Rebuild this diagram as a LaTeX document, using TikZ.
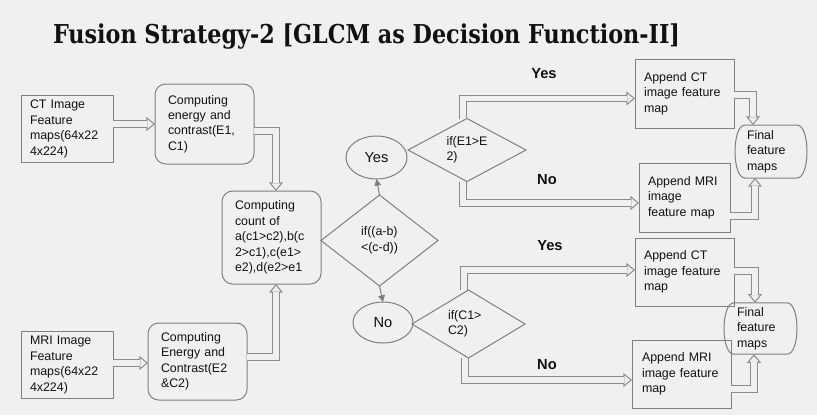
\documentclass[tikz,border=0pt]{standalone}
\usepackage{graphicx}
\usepackage{fontspec}
\setmainfont{Liberation Sans}
\newfontfamily\titlefont{DejaVu Serif}
\usetikzlibrary{arrows.meta,shapes.geometric,calc}
\definecolor{bgcol}{HTML}{F0F0F0}
\definecolor{lncol}{HTML}{7F7F7F}
\definecolor{arrcol}{HTML}{8C8C8C}
\definecolor{inkcol}{HTML}{111111}
\newcommand\drawfinal[1]{\draw[lncol, line width=0.75pt] ([xshift=7.5pt]#1.north west) -- ([xshift=-7.5pt]#1.north east) .. controls ([xshift=2.5pt]#1.north east) and ([xshift=2.5pt]#1.south east) .. ([xshift=-7.5pt]#1.south east) -- ([xshift=7.5pt]#1.south west) .. controls ([xshift=-2.5pt]#1.south west) and ([xshift=-2.5pt]#1.north west) .. cycle;}
\begin{document}
\begin{tikzpicture}[x=0.75pt,y=-0.75pt,
  every node/.style={outer sep=0pt, text=inkcol},
  txt/.style={font=\fontsize{9.3pt}{11.6pt}\selectfont, align=left},
  box/.style={txt, draw=lncol, line width=0.75pt, rectangle},
  rbox/.style={box, rounded corners=8pt},
  dia/.style={txt, diamond, draw=lncol, line width=0.75pt, inner sep=0pt},
  ell/.style={ellipse, draw=lncol, line width=0.75pt, inner sep=0pt, font=\fontsize{11pt}{13pt}\selectfont},
  lab/.style={font=\bfseries\fontsize{11pt}{13pt}\selectfont, inner sep=0pt},
  fat/.style={draw=arrcol, line width=0.75pt,
    -{Triangle[open, fill=bgcol, width=10.5pt, length=6.5pt, line width=0.75pt]},
    postaction={draw=arrcol, -, double=bgcol, double distance=4.2pt, line width=0.75pt, shorten >=5.8pt}},
  tarrow/.style={draw=lncol, line width=0.75pt, -{Triangle[width=5pt,length=5pt]}}
]
\fill[bgcol] (0,0) rectangle (817,415);
\useasboundingbox (0,0) rectangle (817,415);

\node[anchor=base west, inner sep=0pt] (title) at (53,43) {\resizebox{470.25pt}{\height}{\titlefont\bfseries\fontsize{19.5pt}{23pt}\selectfont Fusion Strategy-2 [GLCM as Decision Function-II]}};

% left column
\node[box, minimum width=69pt, minimum height=48pt, inner xsep=6.75pt, text width=55.5pt] (ct) at (67,129) {CT Image\\Feature\\maps(64x22\\4x224)};
\node[box, minimum width=69pt, minimum height=48pt, inner xsep=6.75pt, text width=55.5pt] (mri) at (67,365) {MRI Image\\Feature\\maps(64x22\\4x224)};
\node[rbox, minimum width=74.25pt, minimum height=60pt, inner xsep=9.75pt, text width=54.75pt] (ce1) at (204.5,124) {Computing\\energy and\\contrast(E1,\\C1)};
\node[rbox, minimum width=74.25pt, minimum height=57.75pt, inner xsep=9.75pt, text width=54.75pt] (ce2) at (197.5,361.5) {Computing\\Energy and\\Contrast(E2\\\&C2)};
\node[rbox, minimum width=74.25pt, minimum height=69.75pt, inner xsep=9.75pt, text width=54.75pt] (cnt) at (271.5,237.5) {Computing\\count of\\a(c1>c2),b(c\\2>c1),c(e1>\\e2),d(e2>e1};

% decisions
\node[dia, shape aspect=1.3, minimum width=87.75pt, minimum height=68.25pt] (d1) at (379.5,240.5) {if((a-b)\\<(c-d))};
\node[ell, minimum width=45.75pt, minimum height=32.25pt] (yes) at (376.5,157.5) {Yes};
\node[ell, minimum width=45pt, minimum height=30.75pt] (no) at (383,322.5) {No};
\node[dia, shape aspect=1.9, minimum width=88.5pt, minimum height=47.25pt] (d2) at (467,150) {if(E1>E\\2)};
\node[dia, shape aspect=1.7, minimum width=84.75pt, minimum height=51pt, text width=30.75pt] (d3) at (468.5,324) {if(C1>\\C2)};

% appends
\node[box, minimum width=74.25pt, minimum height=51.75pt, inner xsep=6.75pt, text width=60.75pt] (act1) at (684.5,93.5) {Append CT\\image feature\\map};
\node[box, minimum width=68.25pt, minimum height=51.75pt, inner xsep=6.75pt, text width=54.75pt] (amri1) at (684.5,197.5) {Append MRI\\image\\feature map};
\node[box, minimum width=74.25pt, minimum height=51pt, inner xsep=6.75pt, text width=60.75pt] (act2) at (684.5,272) {Append CT\\image feature\\map};
\node[box, minimum width=74.25pt, minimum height=51pt, inner xsep=7.5pt, text width=59.25pt] (amri2) at (681.5,374) {Append MRI\\image feature\\map};

% finals
\node[txt, minimum width=54pt, minimum height=39.75pt, inner xsep=9pt, text width=36pt] (f1) at (771,151.5) {Final\\feature\\maps};
\node[txt, minimum width=54.75pt, minimum height=38.25pt, inner xsep=9.75pt, text width=35.25pt] (f2) at (760.5,328.5) {Final\\feature\\maps};
\drawfinal{f1}
\drawfinal{f2}

% labels
\node[lab] (ly1) at (544,74) {Yes};
\node[lab] (ln1) at (547,180) {No};
\node[lab] (ly2) at (550,245.5) {Yes};
\node[lab] (ln2) at (547,364.5) {No};

% connectors
\draw[fat] (ct.east |- 0,124) -- (ce1.west |- 0,124);
\draw[fat] (mri.east |- 0,363) -- (ce2.west |- 0,363);
\draw[fat] (ce1.east |- 0,131) -| (cnt.north -| 276,0);
\draw[fat] (ce2.east |- 0,357) -| (cnt.south -| 276,0);
\draw[tarrow] (d1.north) -- (yes.south);
\draw[tarrow] (d1.south) -- (no.north);
\draw[fat] (d2.north -| 463,0) |- (act1.west |- 0,98.5);
\draw[fat] (d2.south -| 463,0) |- (amri1.west |- 0,203);
\draw[fat] (d3.north -| 464,0) |- (act2.west |- 0,270);
\draw[fat] (d3.south -| 465,0) |- (amri2.west |- 0,380);
\draw[fat] (act1.east |- 0,95) -| (f1.north -| 753,0);
\draw[fat] (amri1.east |- 0,216) -| (f1.south -| 755,0);
\draw[fat] (act2.east |- 0,271) -| (f2.north -| 755,0);
\draw[fat] (amri2.east |- 0,389) -| (f2.south -| 754,0);
\end{tikzpicture}
\end{document}
